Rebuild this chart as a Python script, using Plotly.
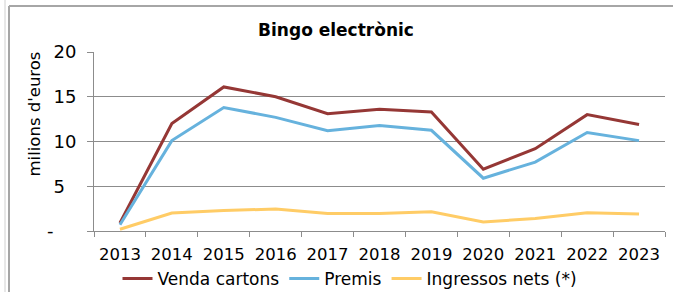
import plotly.graph_objects as go

years = ["2013", "2014", "2015", "2016", "2017", "2018", "2019", "2020", "2021", "2022", "2023"]
venda = [0.9, 12.0, 16.1, 15.0, 13.1, 13.6, 13.3, 6.9, 9.2, 13.0, 11.9]
premis = [0.7, 10.1, 13.8, 12.7, 11.2, 11.8, 11.25, 5.9, 7.7, 11.0, 10.1]
ingressos = [0.2, 2.0, 2.3, 2.45, 1.95, 1.95, 2.15, 1.0, 1.4, 2.05, 1.9]

NB = "\u00a0"
ytick_vals = [0, 5, 10, 15, 20]
ytick_text = ["-" + NB * 4, "5" + NB * 2, "10", "15", "20"]

fig = go.Figure()
fig.add_trace(go.Scatter(x=years, y=venda, mode="lines", name="Venda cartons",
                         line=dict(color="#953735", width=3)))
fig.add_trace(go.Scatter(x=years, y=premis, mode="lines", name="Premis",
                         line=dict(color="#66B2DD", width=3)))
fig.add_trace(go.Scatter(x=years, y=ingressos, mode="lines", name="Ingressos nets (*)",
                         line=dict(color="#FFCC66", width=3)))

font = "DejaVu Sans, Liberation Sans, Arial, sans-serif"
W, H = 673, 292
L, R, T, B = 94, 8, 52, 61
PW, PH = W - L - R, H - T - B

fig.update_layout(
    width=W, height=H,
    margin=dict(l=L, r=R, t=T, b=B, autoexpand=False),
    paper_bgcolor="white", plot_bgcolor="white",
    font=dict(family=font, size=16.5, color="black"),
    title=dict(text="<b>Bingo electrònic</b>", x=336 / W, xanchor="center",
               y=1 - 30 / H, yanchor="middle", font=dict(size=17, family=font)),
    showlegend=True,
    legend=dict(orientation="h", x=(350 - L) / PW, xanchor="center",
                y=-(279 - (T + PH)) / PH, yanchor="middle",
                font=dict(size=17), itemwidth=30, tracegroupgap=0,
                bgcolor="rgba(0,0,0,0)"),
    xaxis=dict(type="category", range=[-0.5, 10.5], showgrid=False,
               showline=True, linecolor="#8c8c8c", linewidth=1,
               ticks="outside", tickson="boundaries", ticklen=5, tickcolor="#8c8c8c",
               tickfont=dict(size=16.5), automargin=False, ticklabelstandoff=8,
               fixedrange=True),
    yaxis=dict(range=[0, 20], tickvals=ytick_vals, ticktext=ytick_text,
               showgrid=True, gridcolor="#8c8c8c", gridwidth=1,
               showline=True, linecolor="#8c8c8c", linewidth=1,
               ticks="outside", ticklen=6, tickcolor="#8c8c8c",
               tickfont=dict(size=18), zeroline=False, automargin=False,
               ticklabelstandoff=7, fixedrange=True),
)

fig.add_annotation(text="milions d'euros", xref="paper", yref="paper",
                   x=(34 - L) / PW, y=(T + PH - 114.5) / PH,
                   xanchor="center", yanchor="middle", textangle=-90,
                   showarrow=False, font=dict(size=16.5, family=font))

# sheet / chart frame lines
fig.add_shape(type="line", xref="paper", yref="paper",
              x0=(9 - L) / PW, x1=(W - L) / PW, y0=(T + PH - 6) / PH, y1=(T + PH - 6) / PH,
              line=dict(color="#a6a6a6", width=2))
fig.add_shape(type="line", xref="paper", yref="paper",
              x0=(9 - L) / PW, x1=(9 - L) / PW, y0=-B / PH, y1=(T + PH - 6) / PH,
              line=dict(color="#a6a6a6", width=2))
fig.add_shape(type="line", xref="paper", yref="paper",
              x0=(5 - L) / PW, x1=(5 - L) / PW, y0=-B / PH, y1=(T + PH) / PH,
              line=dict(color="#d0d0d0", width=1))

fig.write_html("out.html", config={"displayModeBar": False},
               post_script="document.body.style.margin='0';document.body.style.overflow='hidden';")
